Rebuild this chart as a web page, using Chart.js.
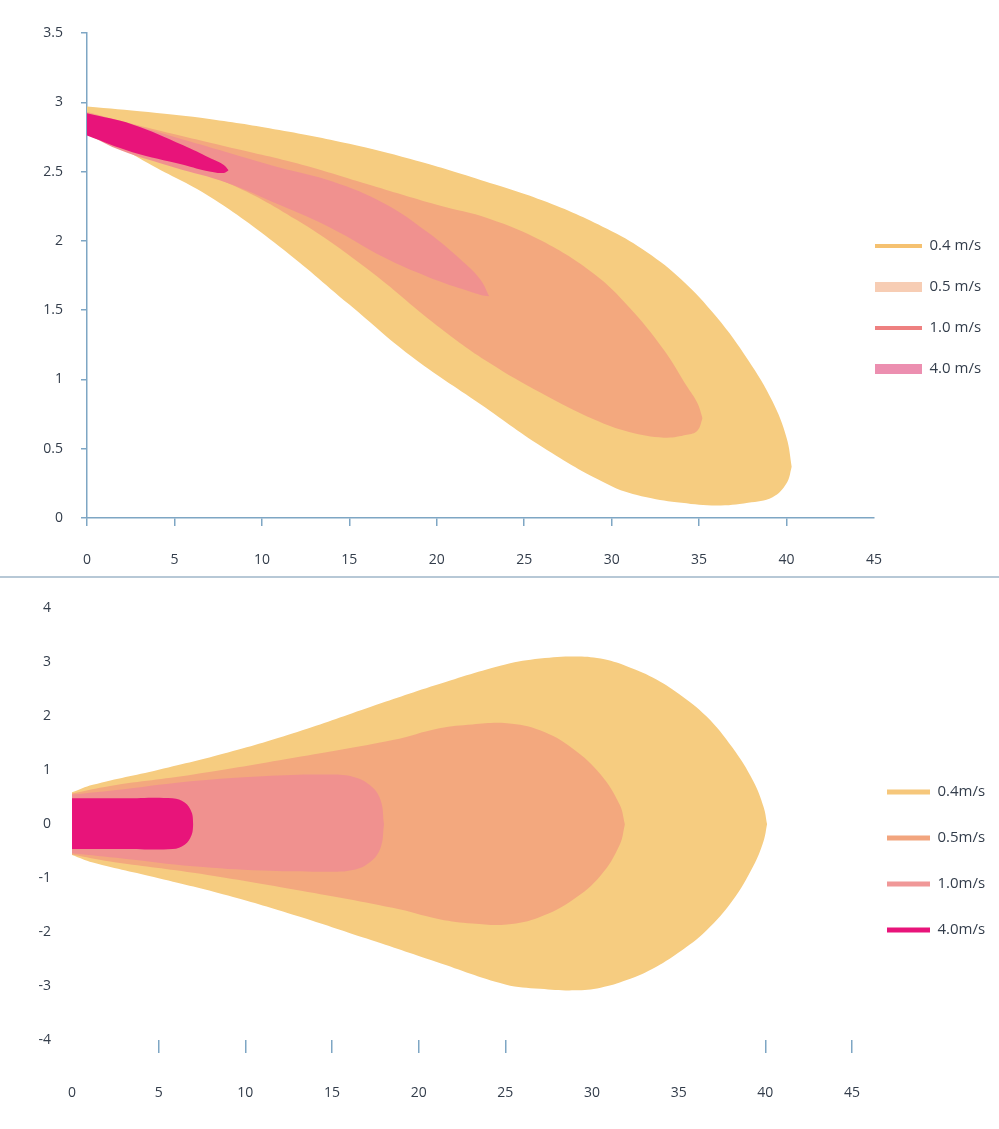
<!DOCTYPE html>
<html lang="en">
<head>
<meta charset="UTF-8">
<title>Velocity contours</title>
<script src="https://cdn.jsdelivr.net/npm/chart.js@4"></script>
<style>
  html, body { margin: 0; padding: 0; background: #fff; }
  body { width: 999px; height: 1129px; position: relative; overflow: hidden; }
  #side { position: absolute; left: 0; top: 0; }
  #plan { position: absolute; left: 0; top: 579px; }
  .rule { position: absolute; left: 0; top: 576px; width: 999px; height: 2px; background: #b7c8d6; }
</style>
</head>
<body>
<canvas id="side" width="999" height="578"></canvas>
<div class="rule"></div>
<canvas id="plan" width="999" height="550"></canvas>
<script>
// Side view (top chart) - contour boundaries, upper and lower edge at each x
const sideXTicks = [0, 5, 10, 15, 20, 25, 30, 35, 40, 45];
const sideYTicks = [0, 0.5, 1, 1.5, 2, 2.5, 3, 3.5];
const sideLabels = ['0.4 m/s', '0.5 m/s', '1.0 m/s', '4.0 m/s'];

const sideX04 = [0, 3.5, 7, 11, 15, 18.5, 22.5, 26.3, 30, 32, 34, 36, 37.8, 39.2, 40, 40.3];
const sideUp04 = [2.97, 2.93, 2.88, 2.80, 2.70, 2.59, 2.44, 2.28, 2.07, 1.92, 1.72, 1.45, 1.14, 0.84, 0.58, 0.37];
const sideLow04 = [2.82, 2.56, 2.32, 1.96, 1.54, 1.17, 0.82, 0.49, 0.23, 0.15, 0.11, 0.09, 0.11, 0.15, 0.25, 0.37];

const sideX05 = [0, 4, 8, 12, 16, 20, 23, 26, 29, 31, 33, 34.3, 34.9, 35.2];
const sideUp05 = [2.93, 2.80, 2.68, 2.56, 2.41, 2.26, 2.16, 2.00, 1.76, 1.52, 1.21, 0.95, 0.83, 0.72];
const sideLow05 = [2.83, 2.59, 2.42, 2.15, 1.80, 1.39, 1.12, 0.90, 0.71, 0.62, 0.58, 0.60, 0.63, 0.72];

const sideX10 = [0, 2, 5, 8, 11, 14, 17, 19.5, 21.5, 22.5, 23];
const sideUp10 = [2.92, 2.86, 2.75, 2.64, 2.53, 2.43, 2.27, 2.06, 1.85, 1.72, 1.60];
const sideLow10 = [2.77, 2.65, 2.53, 2.42, 2.26, 2.09, 1.88, 1.74, 1.65, 1.61, 1.60];

const sideX40 = [0, 2.6, 5.5, 7, 7.8, 8.1];
const sideUp40 = [2.92, 2.84, 2.69, 2.60, 2.55, 2.51];
const sideLow40 = [2.76, 2.64, 2.55, 2.50, 2.49, 2.51];

// Plan view (bottom chart)
const planXTicks = [0, 5, 10, 15, 20, 25, 30, 35, 40, 45];
const planYTicks = [-4, -3, -2, -1, 0, 1, 2, 3, 4];
const planLabels = ['0.4m/s', '0.5m/s', '1.0m/s', '4.0m/s'];

const planX04 = [0, 1.2, 5, 9, 13, 17, 21, 25, 27, 29, 30.5, 32, 33.5, 35, 36.6, 38.1, 39.3, 39.9, 40.1];
const planUp04 = [0.59, 0.73, 1.01, 1.33, 1.71, 2.15, 2.58, 2.96, 3.07, 3.11, 3.07, 2.93, 2.72, 2.42, 2.0, 1.42, 0.8, 0.32, 0];
const planLow04 = [-0.57, -0.71, -1.0, -1.32, -1.7, -2.12, -2.55, -2.97, -3.05, -3.08, -3.03, -2.89, -2.68, -2.38, -1.97, -1.42, -0.78, -0.31, 0];

const planX05 = [0, 2.2, 7, 12.8, 18.5, 21.2, 23.1, 25.1, 27, 28.9, 30.5, 31.6, 31.9];
const planUp05 = [0.57, 0.71, 0.92, 1.23, 1.56, 1.78, 1.85, 1.87, 1.74, 1.40, 0.92, 0.36, 0];
const planLow05 = [-0.56, -0.69, -0.9, -1.21, -1.55, -1.76, -1.84, -1.86, -1.72, -1.40, -0.95, -0.38, 0];

const planX10 = [0, 3, 7, 11, 14.7, 16.2, 17.2, 17.8, 18.0];
const planUp10 = [0.55, 0.65, 0.8, 0.89, 0.92, 0.88, 0.72, 0.45, 0];
const planLow10 = [-0.54, -0.64, -0.78, -0.86, -0.88, -0.85, -0.7, -0.44, 0];

const planX40 = [0, 3, 5.8, 6.5, 6.9, 7.0];
const planUp40 = [0.48, 0.48, 0.48, 0.4, 0.22, 0];
const planLow40 = [-0.46, -0.46, -0.46, -0.38, -0.2, 0];

// colours
const fillColors = ['#f6cc80', '#f3a87e', '#f0918f', '#e8147a'];
const sideKeyColors = ['#f5c170', '#f7cdb4', '#ee8080', '#ec8fb0'];
const sideKeyWidths = [4, 10, 4, 10];
const planKeyColors = ['#f6c77b', '#f2a57e', '#f09898', '#e8147a'];
const planKeyWidths = [5, 5, 5, 5];
const axisColor = '#7ea6c4';
const textColor = '#333d4b';
const fontFamily = '"Open Sans", "Liberation Sans", sans-serif';

function pts(xs, ys) {
  return xs.map((x, i) => ({ x: x, y: ys[i] }));
}

// each contour = upper edge filled down to its lower edge ('+1')
function buildShapes(shapes) {
  const out = [];
  shapes.forEach((s, k) => {
    const order = shapes.length - k;
    out.push({ label: s.label, data: pts(s.x, s.up), fill: '+1', backgroundColor: fillColors[k], borderColor: 'transparent', order: order });
    out.push({ label: s.label + ' low', data: pts(s.x, s.low), fill: false, borderColor: 'transparent', order: order });
  });
  return out;
}

function keyItems(labels, colors, widths) {
  return () => labels.map((t, i) => ({
    text: t, pointStyle: 'line', strokeStyle: colors[i], fillStyle: colors[i],
    lineWidth: widths[i], hidden: false, datasetIndex: i * 2, fontColor: textColor
  }));
}

// put the legend where the picture has it
const legendPlace = {
  id: 'legendPlace',
  afterLayout(chart, args, opts) {
    const lg = chart.legend;
    if (!lg || opts.x == null) return;
    const pad = opts.pad;
    const w = lg.width, h = lg.height;
    lg.left = opts.x - pad;
    lg.right = lg.left + w;
    lg.top = opts.y - pad - opts.size / 2;
    lg.bottom = lg.top + h;
  }
};

function tickSetter(values) {
  return (s) => { s.ticks = values.map(v => ({ value: v })); };
}

const sideShapes = [
  { label: sideLabels[0], x: sideX04, up: sideUp04, low: sideLow04 },
  { label: sideLabels[1], x: sideX05, up: sideUp05, low: sideLow05 },
  { label: sideLabels[2], x: sideX10, up: sideUp10, low: sideLow10 },
  { label: sideLabels[3], x: sideX40, up: sideUp40, low: sideLow40 }
];
const planShapes = [
  { label: planLabels[0], x: planX04, up: planUp04, low: planLow04 },
  { label: planLabels[1], x: planX05, up: planUp05, low: planLow05 },
  { label: planLabels[2], x: planX10, up: planUp10, low: planLow10 },
  { label: planLabels[3], x: planX40, up: planUp40, low: planLow40 }
];

const tickFont = { family: fontFamily, size: 14 };
const keyFont = { family: fontFamily, size: 15 };
const plainNumber = (v) => String(v);

new Chart(document.getElementById('side'), {
  type: 'line',
  data: { datasets: buildShapes(sideShapes) },
  options: {
    responsive: false,
    animation: false,
    events: [],
    layout: { padding: { left: 0, top: 33, right: 125, bottom: 0 } },
    elements: { point: { radius: 0 }, line: { borderWidth: 0, tension: 0.4 } },
    scales: {
      x: {
        type: 'linear', min: 0, max: 45,
        afterBuildTicks: tickSetter(sideXTicks),
        afterFit: (s) => { s.height = 60; },
        border: { display: true, color: axisColor, width: 1.5 },
        grid: {
          drawOnChartArea: false, drawTicks: true, tickLength: 8, lineWidth: 1.5,
          color: (c) => (c.tick && c.tick.value === 45 ? 'rgba(0,0,0,0)' : axisColor)
        },
        ticks: { padding: 26, color: textColor, font: tickFont, maxRotation: 0, autoSkip: false, callback: plainNumber }
      },
      y: {
        type: 'linear', min: 0, max: 3.5,
        afterBuildTicks: tickSetter(sideYTicks),
        afterFit: (s) => { s.width = 87; },
        border: { display: true, color: axisColor, width: 1.5 },
        grid: { drawOnChartArea: false, drawTicks: true, tickLength: 6, lineWidth: 1.5, color: axisColor },
        ticks: { padding: 18, color: textColor, font: tickFont, autoSkip: false, callback: plainNumber }
      }
    },
    plugins: {
      tooltip: { enabled: false },
      legend: {
        position: 'chartArea', align: 'start',
        labels: {
          usePointStyle: true, pointStyleWidth: 47, padding: 26, color: textColor, font: keyFont,
          generateLabels: keyItems(sideLabels, sideKeyColors, sideKeyWidths)
        }
      },
      legendPlace: { x: 875, y: 246, pad: 26, size: 15 }
    }
  },
  plugins: [legendPlace]
});

new Chart(document.getElementById('plan'), {
  type: 'line',
  data: { datasets: buildShapes(planShapes) },
  options: {
    responsive: false,
    animation: false,
    events: [],
    layout: { padding: { left: 0, top: 24, right: 147, bottom: 0 } },
    elements: { point: { radius: 0 }, line: { borderWidth: 0, tension: 0.4 } },
    scales: {
      x: {
        type: 'linear', min: 0, max: 45,
        afterBuildTicks: tickSetter(planXTicks),
        afterFit: (s) => { s.height = 89; },
        border: { display: false },
        grid: {
          drawOnChartArea: false, drawTicks: true, tickLength: 13, lineWidth: 1.5,
          color: (c) => (c.tick && [0, 30, 35].includes(c.tick.value) ? 'rgba(0,0,0,0)' : axisColor)
        },
        ticks: { padding: 32, color: textColor, font: tickFont, maxRotation: 0, autoSkip: false, callback: plainNumber }
      },
      y: {
        type: 'linear', min: -4, max: 4,
        afterBuildTicks: tickSetter(planYTicks),
        afterFit: (s) => { s.width = 72; },
        border: { display: false },
        grid: { display: false, drawTicks: false },
        ticks: { padding: 21, color: textColor, font: tickFont, autoSkip: false, callback: plainNumber }
      }
    },
    plugins: {
      tooltip: { enabled: false },
      legend: {
        position: 'chartArea', align: 'start',
        labels: {
          usePointStyle: true, pointStyleWidth: 43, padding: 31, color: textColor, font: keyFont,
          generateLabels: keyItems(planLabels, planKeyColors, planKeyWidths)
        }
      },
      legendPlace: { x: 887, y: 213, pad: 31, size: 15 }
    }
  },
  plugins: [legendPlace]
});
</script>
</body>
</html>
